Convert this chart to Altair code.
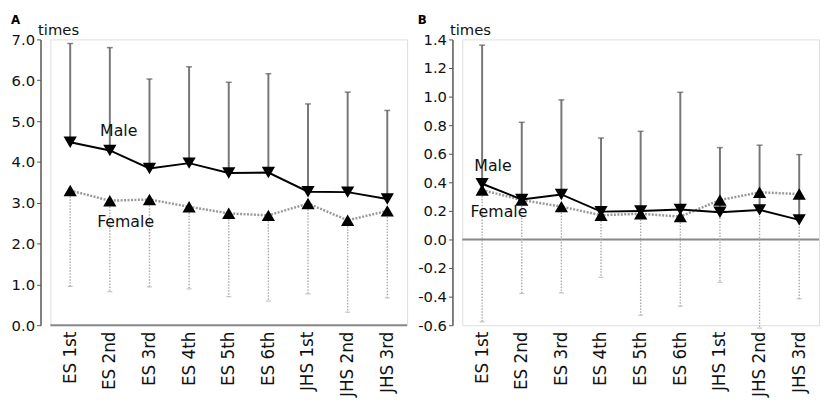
import altair as alt
import pandas as pd

grades = ["ES 1st", "ES 2nd", "ES 3rd", "ES 4th", "ES 5th", "ES 6th", "JHS 1st", "JHS 2nd", "JHS 3rd"]

# Panel A
a_male_mean = [4.48, 4.28, 3.84, 3.97, 3.73, 3.74, 3.27, 3.26, 3.09]
a_male_upper = [6.90, 6.80, 6.03, 6.33, 5.95, 6.16, 5.42, 5.71, 5.26]
a_female_mean = [3.30, 3.05, 3.08, 2.90, 2.74, 2.69, 2.98, 2.57, 2.80]
a_female_lower = [0.95, 0.82, 0.94, 0.89, 0.70, 0.59, 0.77, 0.32, 0.67]
a_ticks = [0, 1, 2, 3, 4, 5, 6, 7]

# Panel B
b_male_mean = [0.39, 0.28, 0.315, 0.195, 0.20, 0.21, 0.19, 0.207, 0.137]
b_male_upper = [1.36, 0.82, 0.977, 0.71, 0.757, 1.03, 0.643, 0.66, 0.594]
b_female_mean = [0.346, 0.276, 0.23, 0.17, 0.18, 0.16, 0.276, 0.33, 0.318]
b_female_lower = [-0.576, -0.378, -0.374, -0.265, -0.53, -0.467, -0.30, -0.62, -0.415]
b_ticks = [-0.6, -0.4, -0.2, 0.0, 0.2, 0.4, 0.6, 0.8, 1.0, 1.2, 1.4]

# annotation anchors: (grade, value, dx)
a_male_lab = ("ES 2nd", 4.75, 9)
a_female_lab = ("ES 2nd", 2.52, 16)
b_male_lab = ("ES 1st", 0.515, 11)
b_female_lab = ("ES 1st", 0.195, 17)

FONT = "DejaVu Sans"


def panel(letter, male_mean, male_up, fem_mean, fem_lo, ydom, ticks, mlab, flab):
    m = pd.DataFrame({"grade": grades, "mean": male_mean, "end": male_up})
    f = pd.DataFrame({"grade": grades, "mean": fem_mean, "end": fem_lo})
    x = alt.X(
        "grade:N",
        sort=grades,
        scale=alt.Scale(type="point", padding=0.5),
        axis=alt.Axis(
            labelAngle=-90, domain=False, ticks=False, labelFontSize=17,
            labelPadding=6, title=None, labelColor="#111", labelFont=FONT,
        ),
    )
    yscale = alt.Scale(domain=ydom, nice=False, zero=False)
    yaxis = alt.Axis(
        values=ticks, format=".1f",
        labelExpr="replace(datum.label, '\u2212', '-')",
        offset=10, tickSize=4, tickColor="#555", domainColor="#555",
        domainWidth=1.5, labelFontSize=15, labelColor="#111", labelPadding=2,
        labelFont=FONT, grid=False,
        title="times", titleAngle=0, titleX=-3, titleY=-5, titleAlign="left",
        titleBaseline="alphabetic", titleFontSize=15, titleFontWeight="normal",
        titleColor="#111", titleFont=FONT,
    )

    def Y(field):
        return alt.Y(field, scale=yscale, axis=yaxis)

    zero = alt.Chart(pd.DataFrame({"z": [0.0]})).mark_rule(
        color="#888", strokeWidth=2
    ).encode(y=Y("z:Q"))

    bm = alt.Chart(m).encode(x=x)
    bf = alt.Chart(f).encode(x=x)

    f_bar = bf.mark_rule(color="#aaa", strokeWidth=1.4, strokeDash=[1.5, 1.5]).encode(
        y=Y("mean:Q"), y2="end:Q")
    f_cap = bf.mark_tick(color="#aaa", size=5, thickness=1.2).encode(y=Y("end:Q"))
    m_bar = bm.mark_rule(color="#777", strokeWidth=2).encode(y=Y("mean:Q"), y2="end:Q")
    m_cap = bm.mark_tick(color="#555", size=6, thickness=1.5).encode(y=Y("end:Q"))

    f_line = bf.mark_line(color="#999", strokeWidth=2.5, strokeDash=[2, 1.5]).encode(y=Y("mean:Q"))
    m_line = bm.mark_line(color="#000", strokeWidth=2).encode(y=Y("mean:Q"))
    f_pt = bf.mark_point(shape="triangle-up", filled=True, color="#000", size=180, opacity=1).encode(y=Y("mean:Q"))
    m_pt = bm.mark_point(shape="triangle-down", filled=True, color="#000", size=180, opacity=1).encode(y=Y("mean:Q"))

    labs = pd.DataFrame({
        "grade": [mlab[0], flab[0]],
        "v": [mlab[1], flab[1]],
        "label": ["Male", "Female"],
    })
    t_m = alt.Chart(labs.iloc[[0]]).mark_text(dx=mlab[2], fontSize=16, font=FONT, color="#111").encode(
        x=x, y=Y("v:Q"), text="label:N")
    t_f = alt.Chart(labs.iloc[[1]]).mark_text(dx=flab[2], fontSize=16, font=FONT, color="#111").encode(
        x=x, y=Y("v:Q"), text="label:N")

    return alt.layer(zero, f_bar, f_cap, m_bar, m_cap, f_line, m_line, f_pt, m_pt, t_m, t_f).properties(
        width=362, height=290,
        title=alt.TitleParams(letter, anchor="start", frame="bounds", fontSize=12,
                              fontWeight="bold", offset=-4, font=FONT, color="#000"),
    )


pa = panel("A", a_male_mean, a_male_upper, a_female_mean, a_female_lower, [0, 7], a_ticks, a_male_lab, a_female_lab)
pb = panel("B", b_male_mean, b_male_upper, b_female_mean, b_female_lower, [-0.6, 1.4], b_ticks, b_male_lab, b_female_lab)

chart = alt.hconcat(pa, pb, spacing=8).properties(
    padding={"left": 2, "top": 2, "right": 0, "bottom": 0}
).configure_view(stroke=None).configure(font=FONT)

chart.save("out.html", embed_options={"renderer": "svg", "actions": False})
